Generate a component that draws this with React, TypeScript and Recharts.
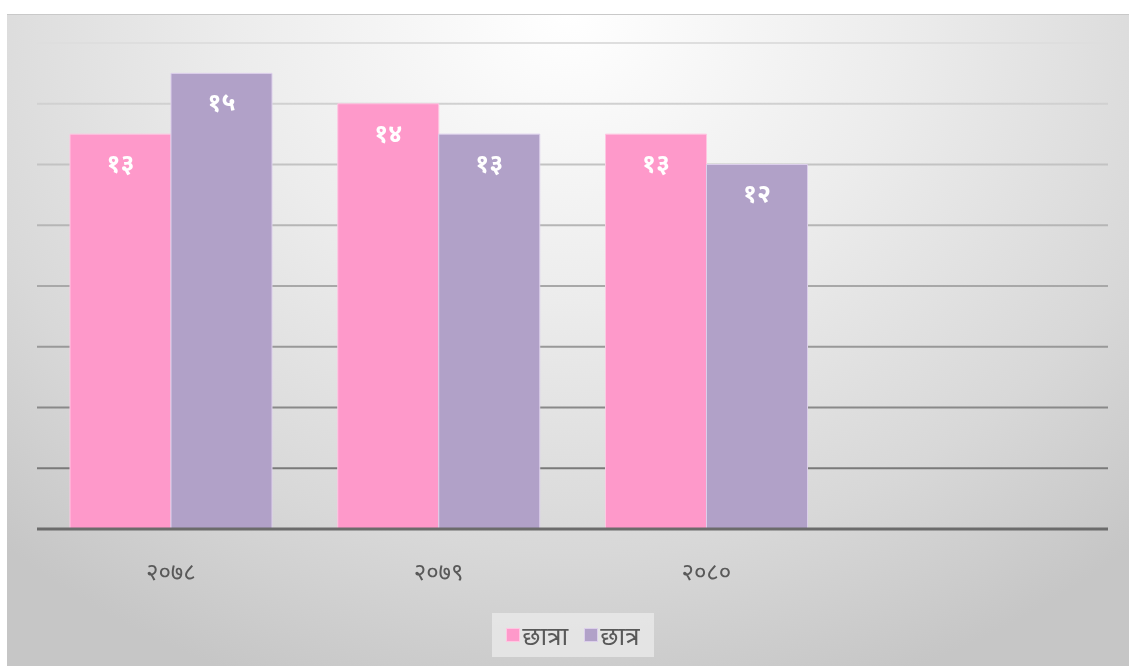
import * as React from "react";
import {
  BarChart,
  Bar,
  XAxis,
  YAxis,
  CartesianGrid,
  LabelList,
} from "recharts";

const categories = ["२०७८", "२०७९", "२०८०", ""];
const girls = [13, 14, 13, null];
const boys = [15, 13, 12, null];
const yTicks = [0, 2, 4, 6, 8, 10, 12, 14, 16];

const seriesNames = ["छात्रा", "छात्र"];
const PINK = "#fe99ca";
const PURPLE = "#b1a1c8";

const DEV_DIGITS = ["०", "१", "२", "३", "४", "५", "६", "७", "८", "९"];
const toDev = (v: any) =>
  v == null ? "" : String(v).replace(/[0-9]/g, (d) => DEV_DIGITS[Number(d)]);

type Row = { name: string; girls: number | null; boys: number | null };

const FONT = "'Noto Sans', 'DejaVu Sans', sans-serif";

export default function App() {
  const data = React.useMemo<Row[]>(
    () =>
      categories.map((name, i) => ({ name, girls: girls[i], boys: boys[i] })),
    []
  );

  return (
    <div
      style={{
        position: "fixed",
        left: 7,
        top: 14,
        width: 1122,
        height: 652,
        borderTop: "1px solid #c9c9c9",
        boxSizing: "border-box",
        background:
          "radial-gradient(ellipse 75% 110% at 50% 0%, #ffffff 0%, #ececec 40%, #d8d8d8 75%, #c6c6c6 100%)",
        fontFamily: FONT,
      }}
    >
      <BarChart
        width={1122}
        height={651}
        data={data}
        margin={{ top: 28, right: 21, left: 30, bottom: 0 }}
        barCategoryGap={33}
        barGap={0}
      >
        <defs>
          <linearGradient
            id="gridGrad"
            gradientUnits="userSpaceOnUse"
            x1="0"
            y1="28"
            x2="0"
            y2="514"
          >
            <stop offset="0%" stopColor="#dedede" />
            <stop offset="50%" stopColor="#a8a8a8" />
            <stop offset="100%" stopColor="#6a6a6a" />
          </linearGradient>
        </defs>
        <CartesianGrid
          vertical={false}
          stroke="url(#gridGrad)"
          strokeWidth={2}
        />
        <YAxis hide domain={[0, 16]} ticks={yTicks} width={0} />
        <XAxis
          dataKey="name"
          height={137}
          axisLine={{ stroke: "#6b6b6b", strokeWidth: 3 }}
          tickLine={false}
          tick={{ fill: "#595959", fontSize: 24, fontFamily: FONT }}
          dy={26}
          interval={0}
        />
        <Bar
          dataKey="girls"
          name={seriesNames[0]}
          fill={PINK}
          stroke="#ffc6e2"
          strokeWidth={1}
          isAnimationActive={false}
        >
          <LabelList
            dataKey="girls"
            position="insideTop"
            offset={20}
            formatter={toDev}
            fill="#ffffff"
            fontSize={25}
            fontWeight="bold"
            fontFamily={FONT}
          />
        </Bar>
        <Bar
          dataKey="boys"
          name={seriesNames[1]}
          fill={PURPLE}
          stroke="#dccfeb"
          strokeWidth={1}
          isAnimationActive={false}
        >
          <LabelList
            dataKey="boys"
            position="insideTop"
            offset={20}
            formatter={toDev}
            fill="#ffffff"
            fontSize={25}
            fontWeight="bold"
            fontFamily={FONT}
          />
        </Bar>
      </BarChart>

      <div
        style={{
          position: "absolute",
          left: 485,
          top: 598,
          width: 162,
          height: 44,
          background: "rgba(235,235,235,0.75)",
          display: "flex",
          alignItems: "center",
          justifyContent: "center",
          gap: 16,
          color: "#595959",
          fontSize: 26,
        }}
      >
        {seriesNames.map((n, i) => (
          <div key={n} style={{ display: "flex", alignItems: "center", gap: 2 }}>
            <span
              style={{
                display: "inline-block",
                width: 12,
                height: 12,
                background: i === 0 ? PINK : PURPLE,
                border: `1px solid ${i === 0 ? "#ffc6e2" : "#dccfeb"}`,
              }}
            />
            <span>{n}</span>
          </div>
        ))}
      </div>
    </div>
  );
}
